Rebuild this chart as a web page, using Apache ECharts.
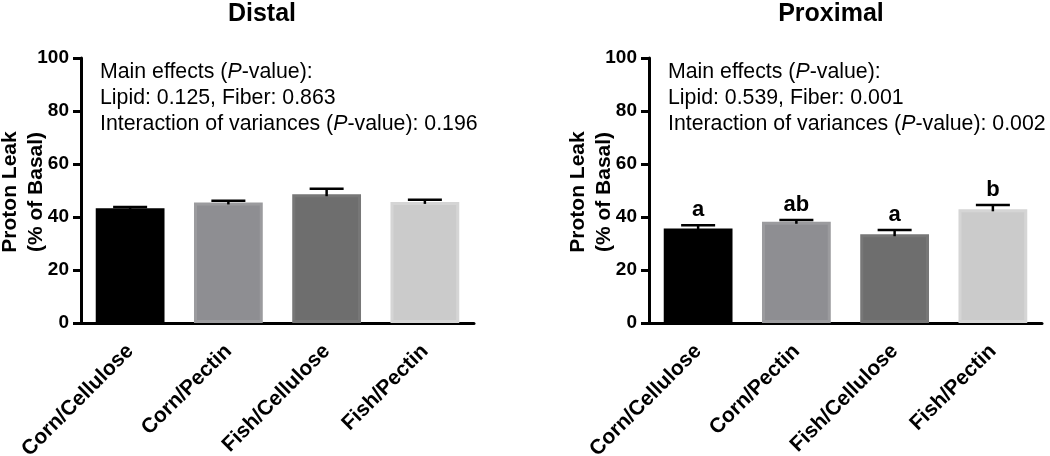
<!DOCTYPE html>
<html><head><meta charset="utf-8">
<script src="https://cdn.jsdelivr.net/npm/echarts@6/dist/echarts.min.js"></script>
<style>html,body{margin:0;padding:0;background:#fff}#c{width:1050px;height:456px}</style>
</head><body><div id="c"></div>
<script>
const categories = ['Corn/Cellulose', 'Corn/Pectin', 'Fish/Cellulose', 'Fish/Pectin'];
const distalMean = [43.3, 45.5, 48.6, 45.7];
const distalErr = [43.8, 46.1, 50.7, 46.5];
const proximalMean = [35.7, 38.2, 33.5, 42.9];
const proximalErr = [36.9, 38.9, 35.1, 44.5];
const proximalLetters = ['a', 'ab', 'a', 'b'];
const yTicks = [0, 20, 40, 60, 80, 100];
const yAxisName = 'Proton Leak\n(% of Basal)';
const distalText = ['Lipid: 0.125, Fiber: 0.863', '0.196'];
const proximalText = ['Lipid: 0.539, Fiber: 0.001', '0.002'];

const barColors = ['#000000', '#8e8e92', '#6e6e6e', '#cbcbcb'];
const borderColors = ['#000000', '#9b9b9e', '#777777', '#d5d5d5'];
const FONT = 'Liberation Sans, Arial, Helvetica, sans-serif';

const chart = echarts.init(document.getElementById('c'));

function grid(left) { return { left: left, width: 393, top: 58, height: 265, containLabel: false, outerBoundsMode: 'none' }; }
function xAxis(idx) {
  return {
    type: 'category', gridIndex: idx, data: categories,
    axisLine: { lineStyle: { color: '#000', width: 3 } },
    axisTick: { alignWithLabel: true, length: 8, lineStyle: { color: '#000', width: 3 } },
    axisLabel: { rotate: 45, fontSize: 21, fontWeight: 'bold', color: '#000', fontFamily: FONT, margin: 25, interval: 0 }
  };
}
function yAxis(idx) {
  return {
    type: 'value', gridIndex: idx, min: 0, max: 100, interval: 20,
    axisLine: { show: true, lineStyle: { color: '#000', width: 3 } },
    axisTick: { show: true, length: 8, lineStyle: { color: '#000', width: 3 } },
    splitLine: { show: false },
    axisLabel: { fontSize: 19, fontWeight: 'bold', color: '#000', fontFamily: FONT, margin: 12,
      formatter: v => yTicks.includes(v) ? String(v) : '' }
  };
}
function bars(idx, vals) {
  return {
    type: 'bar', xAxisIndex: idx, yAxisIndex: idx, barWidth: '70%',
    data: vals.map((v, i) => ({ value: v, itemStyle: { color: barColors[i], borderColor: borderColors[i], borderWidth: 3 } })),
    z: 2
  };
}
function errs(idx, means, tops, letters) {
  return {
    type: 'custom', xAxisIndex: idx, yAxisIndex: idx, z: 3,
    data: means.map((m, i) => [i, m, tops[i]]),
    renderItem: (params, api) => {
      const x = api.value(0);
      const p0 = api.coord([x, api.value(1)]);
      const p1 = api.coord([x, api.value(2)]);
      const half = 17;
      const children = [
        { type: 'line', shape: { x1: p0[0], y1: p0[1] + 2, x2: p1[0], y2: p1[1] }, style: { stroke: '#000', lineWidth: 2.5 } },
        { type: 'line', shape: { x1: p1[0] - half, y1: p1[1], x2: p1[0] + half, y2: p1[1] }, style: { stroke: '#000', lineWidth: 2.5 } }
      ];
      if (letters) {
        children.push({ type: 'text', style: { text: letters[params.dataIndex], x: p1[0], y: p1[1] - 15,
          align: 'center', verticalAlign: 'middle', fontSize: 22, fontWeight: 'bold', fill: '#000', fontFamily: FONT } });
      }
      return { type: 'group', children: children };
    }
  };
}
function annot(left, axisX, lines) {
  const fs = 21.3;
  const rich = { n: { fontSize: fs, fontFamily: FONT }, i: { fontSize: fs, fontStyle: 'italic', fontFamily: FONT } };
  const base = { fontSize: fs, fill: '#000', fontFamily: FONT, verticalAlign: 'middle', align: 'left', x: 0 };
  return [
    { type: 'text', x: left, y: 72, style: Object.assign({}, base, { text: '{n|Main effects (}{i|P}{n|-value):}', rich: rich }) },
    { type: 'text', x: left, y: 98, style: Object.assign({}, base, { text: lines[0] }) },
    { type: 'text', x: left, y: 124, style: Object.assign({}, base, { text: '{n|Interaction of variances (}{i|P}{n|-value): ' + lines[1] + '}', rich: rich }) },
    { type: 'text', x: axisX - 58, y: 192, rotation: Math.PI / 2,
      style: { text: yAxisName, fontSize: 21, fontWeight: 'bold', fill: '#000', fontFamily: FONT, lineHeight: 26, align: 'center', verticalAlign: 'middle' } }
  ];
}

chart.setOption({
  animation: false,
  title: [
    { text: 'Distal', left: 257, top: -3, textAlign: 'center', textStyle: { fontSize: 25, fontWeight: 'bold', color: '#000', fontFamily: FONT } },
    { text: 'Proximal', left: 826, top: -3, textAlign: 'center', textStyle: { fontSize: 25, fontWeight: 'bold', color: '#000', fontFamily: FONT } }
  ],
  grid: [grid(81), grid(649)],
  xAxis: [xAxis(0), xAxis(1)],
  yAxis: [yAxis(0), yAxis(1)],
  series: [
    bars(0, distalMean), errs(0, distalMean, distalErr, null),
    bars(1, proximalMean), errs(1, proximalMean, proximalErr, proximalLetters)
  ],
  graphic: annot(100, 81, distalText).concat(annot(668, 649, proximalText))
});
</script></body></html>
